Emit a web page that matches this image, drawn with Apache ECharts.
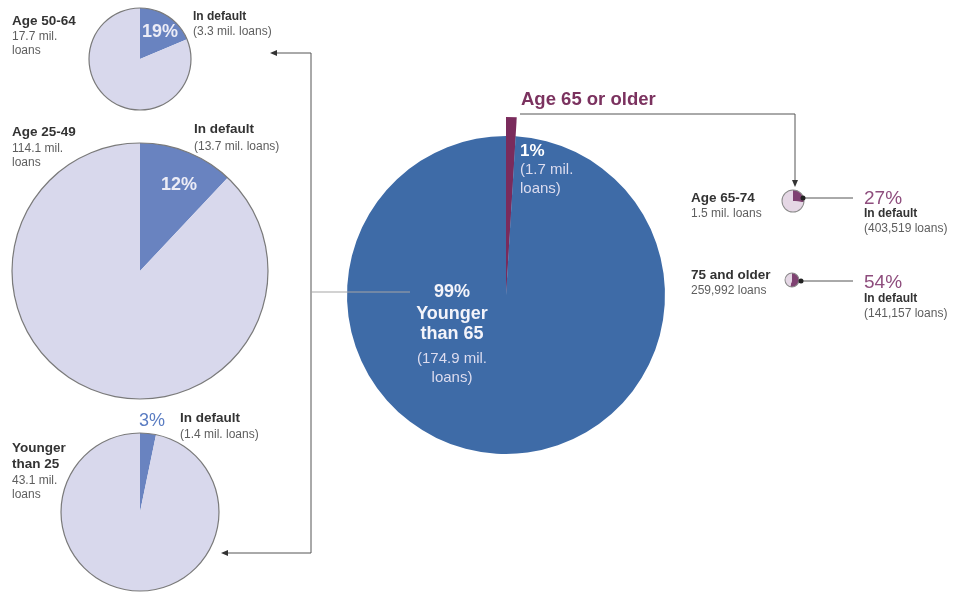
<!DOCTYPE html>
<html>
<head>
<meta charset="utf-8">
<script src="https://cdn.jsdelivr.net/npm/echarts@6/dist/echarts.min.js"></script>
<style>
html,body{margin:0;padding:0;background:#fff;}
#chart{width:956px;height:592px;}
</style>
</head>
<body>
<div id="chart"></div>
<script>
// ---- data ----
const mainLabels = ['Age 65 or older', 'Younger than 65'];
const mainLoans = [1.7, 174.9];            // mil. loans
const mainPct = ['1%', '99%'];

const leftGroups = ['Age 50-64', 'Age 25-49', 'Younger than 25'];
const leftTotals = [17.7, 114.1, 43.1];    // mil. loans
const leftDefaults = [3.3, 13.7, 1.4];     // mil. loans in default
const leftPct = ['19%', '12%', '3%'];

const rightGroups = ['Age 65-74', '75 and older'];
const rightTotals = [1500000, 259992];     // loans
const rightDefaults = [403519, 141157];    // loans in default
const rightTotalText = ['1.5 mil. loans', '259,992 loans'];
const rightDefaultText = ['(403,519 loans)', '(141,157 loans)'];
const rightPct = ['27%', '54%'];

// ---- layout ----
const FONT = '"Liberation Sans", Arial, Helvetica, sans-serif';
const C = {
  blue: '#3e6ba7', maroon: '#7a2b5c', lav: '#d8d8ec', lavDark: '#6983c0',
  pink: '#e5d7e5', pinkDark: '#7f4272', outline: '#7a7a7a', line: '#555'
};
const mainGeo = {cx: 506, cy: 295, r: 159, rOut: 178};
const leftGeo = [{cx: 140, cy: 59, r: 51}, {cx: 140, cy: 271, r: 128}, {cx: 140, cy: 512, r: 79}];
const rightGeo = [{cx: 793, cy: 201, r: 11}, {cx: 792, cy: 280, r: 7}];

const base = {
  type: 'pie', silent: true, startAngle: 90, clockwise: true,
  label: {show: false}, labelLine: {show: false},
  emphasis: {disabled: true}, animation: false, avoidLabelOverlap: false
};

const series = [];
// main pie: extended older slice + full pie
series.push(Object.assign({}, base, {
  center: [mainGeo.cx, mainGeo.cy], radius: mainGeo.rOut,
  data: [
    {name: mainLabels[0], value: mainLoans[0], itemStyle: {color: C.maroon, borderWidth: 0}},
    {name: mainLabels[1], value: mainLoans[1], itemStyle: {color: 'rgba(0,0,0,0)', borderWidth: 0}}
  ]
}));
series.push(Object.assign({}, base, {
  center: [mainGeo.cx, mainGeo.cy], radius: mainGeo.r,
  data: [
    {name: mainLabels[0], value: mainLoans[0], itemStyle: {color: C.maroon, borderWidth: 0}},
    {name: mainLabels[1], value: mainLoans[1], itemStyle: {color: C.blue, borderWidth: 0}}
  ]
}));
// left pies
leftGroups.forEach((g, i) => {
  const geo = leftGeo[i];
  series.push(Object.assign({}, base, {
    name: g, center: [geo.cx, geo.cy], radius: geo.r,
    data: [
      {name: 'In default', value: leftDefaults[i], itemStyle: {color: C.lavDark, borderWidth: 0}},
      {name: 'Other', value: leftTotals[i] - leftDefaults[i], itemStyle: {color: C.lav, borderWidth: 0}}
    ]
  }));
  series.push(Object.assign({}, base, {
    center: [geo.cx, geo.cy], radius: [geo.r - 0.6, geo.r + 0.6],
    data: [{value: 1, itemStyle: {color: C.outline, borderWidth: 0}}]
  }));
});
// right pies
rightGroups.forEach((g, i) => {
  const geo = rightGeo[i];
  series.push(Object.assign({}, base, {
    name: g, center: [geo.cx, geo.cy], radius: geo.r,
    data: [
      {name: 'In default', value: rightDefaults[i], itemStyle: {color: C.pinkDark, borderWidth: 0}},
      {name: 'Other', value: rightTotals[i] - rightDefaults[i], itemStyle: {color: C.pink, borderWidth: 0}}
    ]
  }));
  series.push(Object.assign({}, base, {
    center: [geo.cx, geo.cy], radius: [geo.r - 0.5, geo.r + 0.5],
    data: [{value: 1, itemStyle: {color: '#8a8a8a', borderWidth: 0}}]
  }));
});

// ---- annotations ----
const g = [];
function T(x, y, text, size, weight, color, align) {
  g.push({type: 'text', x: x, y: y, z: 100, silent: true,
    style: {text: text, fill: color, font: (weight || 'normal') + ' ' + size + 'px ' + FONT,
      align: align || 'left', verticalAlign: 'middle'}});
}
function L(points, color, w) {
  g.push({type: 'polyline', z: 99, silent: true, shape: {points: points},
    style: {stroke: color, lineWidth: w || 1, fill: null}});
}
function P(points, color) {
  g.push({type: 'polygon', z: 99, silent: true, shape: {points: points}, style: {fill: color}});
}
function D(x, y, r, color) {
  g.push({type: 'circle', z: 101, silent: true, shape: {cx: x, cy: y, r: r}, style: {fill: color}});
}

const dark = '#333', grey = '#5e5e5e';
// left labels
T(12, 21, leftGroups[0], 13.5, 'bold', dark);
T(12, 37, leftTotals[0] + ' mil.', 12, 'normal', grey);
T(12, 51, 'loans', 12, 'normal', grey);
T(193, 17, 'In default', 12, 'bold', dark);
T(193, 32, '(' + leftDefaults[0] + ' mil. loans)', 12, 'normal', grey);
T(160, 32, leftPct[0], 18, 'bold', '#ececf6', 'center');

T(12, 132, leftGroups[1], 13.5, 'bold', dark);
T(12, 149, leftTotals[1] + ' mil.', 12, 'normal', grey);
T(12, 163, 'loans', 12, 'normal', grey);
T(194, 129, 'In default', 13.5, 'bold', dark);
T(194, 147, '(' + leftDefaults[1] + ' mil. loans)', 12, 'normal', grey);
T(179, 185, leftPct[1], 18, 'bold', '#ececf6', 'center');

T(152, 421, leftPct[2], 18, 'normal', '#5a7cc2', 'center');
T(180, 418, 'In default', 13.5, 'bold', dark);
T(180, 435, '(' + leftDefaults[2] + ' mil. loans)', 12, 'normal', grey);
T(12, 448, 'Younger', 13.5, 'bold', dark);
T(12, 464, 'than 25', 13.5, 'bold', dark);
T(12, 481, leftTotals[2] + ' mil.', 12, 'normal', grey);
T(12, 495, 'loans', 12, 'normal', grey);

// main labels
T(521, 100, mainLabels[0], 18.5, 'bold', '#7b325f');
T(520, 151, mainPct[0], 17, 'bold', '#ffffff');
T(520, 170, '(' + mainLoans[0] + ' mil.', 15, 'normal', '#dcdcef');
T(520, 189, 'loans)', 15, 'normal', '#dcdcef');
T(452, 292, mainPct[1], 18, 'bold', '#f4f4fa', 'center');
T(452, 314, 'Younger', 18, 'bold', '#f4f4fa', 'center');
T(452, 334, 'than 65', 18, 'bold', '#f4f4fa', 'center');
T(452, 359, '(' + mainLoans[1] + ' mil.', 15, 'normal', '#dcdcef', 'center');
T(452, 378, 'loans)', 15, 'normal', '#dcdcef', 'center');

// right labels
const ry = [198, 275];
rightGroups.forEach((name, i) => {
  T(691, ry[i], name, 13.5, 'bold', dark);
  T(691, ry[i] + 16, rightTotalText[i], 12, 'normal', grey);
  T(864, ry[i] + 0.5 + (i ? 7 : 0), rightPct[i], 19, 'normal', '#8e4d7d');
  T(864, ry[i] + 16 + (i ? 8 : 0), 'In default', 12, 'bold', dark);
  T(864, ry[i] + 31 + (i ? 8 : 0), rightDefaultText[i], 12, 'normal', grey);
});

// connectors
L([[276, 53], [311, 53], [311, 553], [228, 553]], C.line);
P([[270, 53], [277, 50], [277, 56]], '#333');
P([[221, 553], [228, 550], [228, 556]], '#333');
L([[311, 292], [410, 292]], '#a5a5a5');
L([[520, 114], [795, 114], [795, 180]], C.line);
P([[795, 187], [792, 180], [798, 180]], '#333');
L([[803, 198], [853, 198]], C.line);
D(803, 198, 2.5, '#222');
L([[801, 281], [853, 281]], C.line);
D(801, 281, 2.5, '#222');

const chart = echarts.init(document.getElementById('chart'), null, {renderer: 'canvas'});
chart.setOption({
  backgroundColor: '#ffffff',
  animation: false,
  series: series,
  graphic: {elements: g}
});
</script>
</body>
</html>
